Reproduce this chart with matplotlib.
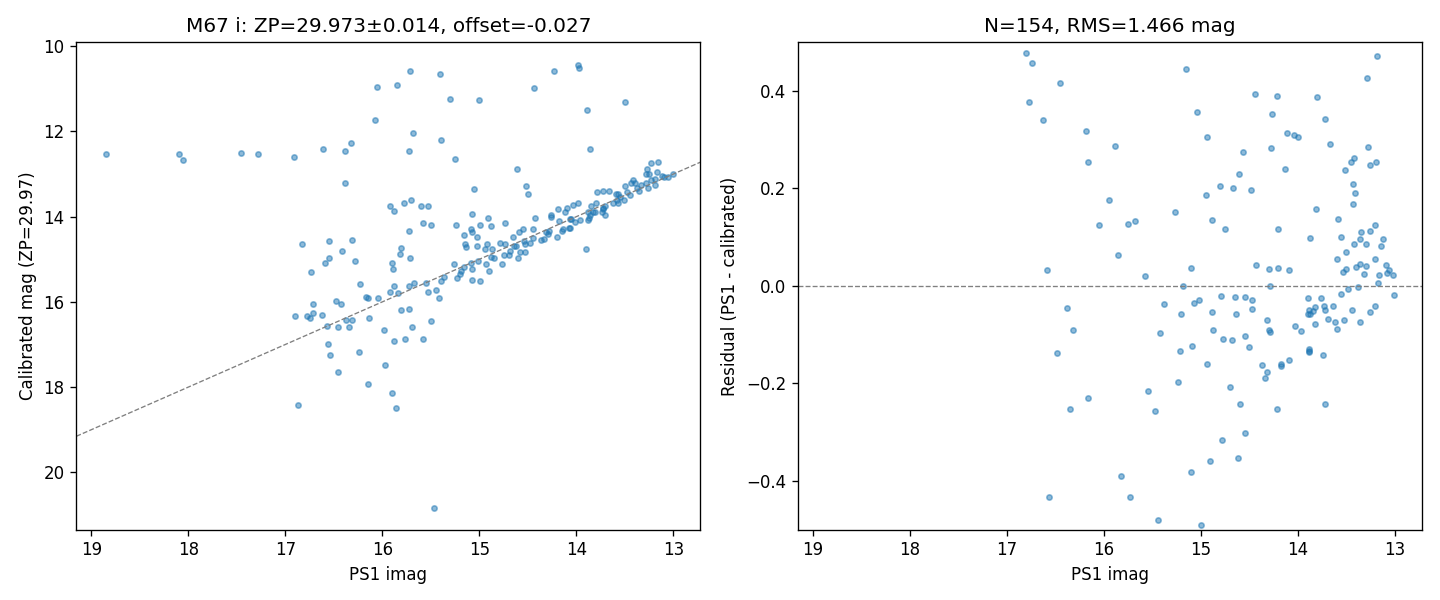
import numpy as np
import matplotlib
matplotlib.use("Agg")
import matplotlib.pyplot as plt

# left panel: PS1 imag vs calibrated mag
ps1_mag = [
    18.85, 18.10, 18.05, 17.46, 17.28, 16.91, 16.61, 16.39, 16.32, 16.38, 16.08, 16.06,
    16.83, 16.55, 16.31, 16.42, 16.55, 16.59, 16.28, 16.74, 16.23, 16.17, 16.15, 16.04,
    16.48, 16.43, 16.72, 16.90, 16.78, 16.75, 16.72, 16.62, 16.37, 16.31, 16.14, 16.57,
    16.46, 16.34, 15.98, 16.56, 16.54, 16.24, 15.97, 16.46, 16.15, 16.87,
    15.85, 15.71, 15.41, 14.23, 14.44, 15.30, 15.00, 15.68, 15.40, 15.72, 15.25, 14.61,
    14.52, 14.50, 15.05, 15.92, 15.88, 15.78, 15.70, 15.60, 15.53, 15.72, 15.58, 15.50,
    15.24, 15.08, 14.99, 14.91, 14.88, 14.74, 15.09, 15.08, 15.16, 15.02,
    14.43, 14.19, 14.12, 14.10, 14.26, 14.26, 14.18, 15.15, 15.14, 15.02, 14.92, 14.94,
    14.79, 14.74, 14.87, 14.65, 14.59, 14.55, 14.45, 14.45, 14.54, 14.53, 14.48, 14.64,
    14.62, 14.68, 14.58, 14.53, 14.60, 14.69, 14.75, 14.85, 14.88, 14.77, 14.93, 14.90,
    15.01, 15.09, 15.08, 15.08, 14.99, 15.16, 15.19, 15.20, 15.23, 15.26, 15.36, 15.40,
    15.45, 15.42, 15.53, 15.55, 15.67, 15.73, 15.81, 15.82, 15.71, 15.90, 15.89, 15.88,
    15.92, 15.84, 15.81, 15.72, 15.50, 15.69, 15.77, 15.58, 15.88, 15.90, 15.86, 15.47,
    14.33, 14.36, 14.31, 14.29, 14.28, 14.20, 14.15, 14.14, 14.07, 14.07,
    13.98, 13.97, 13.89, 13.50, 13.86, 13.90,
    13.23, 13.16, 13.27, 13.17, 13.28, 13.25, 13.12, 13.10, 13.05, 13.00, 13.19, 13.23,
    13.19, 13.42, 13.40, 13.44, 13.50, 13.33, 13.28, 13.37, 13.35, 13.26, 13.48, 13.45,
    13.57, 13.59, 13.55, 13.79, 13.72, 13.66, 13.58, 13.51, 13.62, 13.57, 13.70, 13.72,
    13.80, 13.85, 13.73, 13.70, 13.74, 13.88, 13.86, 13.83, 13.81, 13.87, 13.88, 13.98,
    14.03, 13.96, 14.01, 14.05, 14.08,
]
cal_mag = [
    12.52, 12.52, 12.68, 12.50, 12.52, 12.59, 12.42, 12.45, 12.28, 13.22, 11.74, 10.95,
    14.65, 14.58, 14.54, 14.80, 14.96, 15.08, 15.05, 15.31, 15.57, 15.88, 15.90, 15.92,
    15.99, 16.04, 16.06, 16.32, 16.32, 16.39, 16.27, 16.30, 16.42, 16.42, 16.39, 16.56,
    16.60, 16.60, 16.67, 17.00, 17.24, 17.17, 17.47, 17.64, 17.92, 18.41,
    10.90, 10.59, 10.64, 10.57, 10.97, 11.23, 11.25, 12.03, 12.19, 12.45, 12.64, 12.89,
    13.29, 13.46, 13.34, 13.76, 13.86, 13.69, 13.60, 13.74, 13.74, 14.33, 14.16, 14.19,
    14.19, 13.93, 14.19, 14.02, 14.23, 14.14, 14.30, 14.35, 14.44, 14.47,
    14.04, 13.81, 13.88, 13.79, 13.95, 14.00, 14.09, 14.63, 14.72, 14.68, 14.63, 14.77,
    14.61, 14.63, 14.75, 14.47, 14.37, 14.30, 14.28, 14.51, 14.56, 14.65, 14.61, 14.68,
    14.70, 14.80, 14.84, 14.84, 14.98, 14.91, 14.89, 14.96, 14.94, 15.10, 15.10, 15.27,
    15.05, 15.08, 15.22, 15.48, 15.50, 15.19, 15.27, 15.34, 15.43, 15.12, 15.41, 15.52,
    15.73, 15.92, 15.76, 15.55, 15.55, 15.62, 14.73, 14.87, 14.98, 15.08, 15.24, 15.62,
    15.76, 15.78, 16.20, 16.16, 16.44, 16.60, 16.86, 16.86, 16.93, 18.13, 18.48, 20.83,
    14.53, 14.54, 14.37, 14.40, 14.34, 14.47, 14.33, 14.30, 14.26, 14.05,
    10.43, 10.52, 11.49, 11.32, 12.40, 14.75,
    12.73, 12.71, 12.87, 12.94, 13.01, 13.01, 13.04, 13.06, 13.06, 13.01, 13.11, 13.15,
    13.25, 13.15, 13.22, 13.20, 13.29, 13.25, 13.20, 13.32, 13.39, 13.32, 13.43, 13.48,
    13.46, 13.46, 13.53, 13.41, 13.39, 13.39, 13.60, 13.60, 13.69, 13.67, 13.75, 13.79,
    13.67, 13.76, 13.81, 13.95, 13.88, 13.90, 13.97, 13.90, 13.90, 14.02, 14.07, 13.69,
    13.73, 14.07, 14.12, 14.05, 14.26,
]

# right panel: residuals (PS1 - calibrated)
res_mag = [
    16.80, 16.74, 16.45, 16.77, 16.63, 16.18, 15.89, 16.16, 15.95, 16.05, 15.75, 15.68,
    15.85, 16.59, 15.58, 16.38, 15.38, 16.32, 15.42, 16.48, 15.54, 16.16, 16.35, 15.47,
    15.82, 16.57, 15.73, 15.44,
    15.15, 14.44, 14.21, 15.04, 14.27, 14.94, 14.11, 14.28, 14.57, 14.13, 14.61, 14.80,
    14.67, 14.48, 14.95, 15.27, 14.88, 14.75, 14.20, 15.10, 14.43, 14.30, 14.20, 14.09,
    15.18, 14.29, 15.07, 15.02, 14.79, 14.65, 14.55, 14.47, 15.20, 14.89, 14.64, 14.47,
    14.32, 14.30, 14.29, 14.87, 14.77, 14.68, 14.54, 14.50, 15.09, 15.21, 14.94, 14.37,
    14.32, 14.34, 14.17, 14.17, 14.09, 15.24, 14.70, 14.60, 14.21, 14.55, 14.78, 14.91,
    14.62, 15.10, 15.00,
    13.18, 13.29, 13.80, 13.72, 14.04, 14.00, 13.67, 13.28, 13.42, 13.45, 13.26, 13.19,
    13.51, 13.43, 13.41, 13.43, 13.81, 13.59, 13.20, 13.26, 13.35, 13.36, 13.12, 13.42,
    13.30, 13.14, 13.87, 13.56, 13.50, 13.60, 13.20, 13.53, 13.50, 13.40, 13.36, 13.30,
    13.32, 13.09, 13.06, 13.08, 13.02, 13.16, 13.17, 13.38, 13.48,
    13.55, 13.01, 13.90, 13.76, 13.82, 13.73, 13.64, 13.88, 13.84, 13.72, 13.90, 13.87,
    13.44, 13.20, 13.26, 13.69, 13.62, 13.52, 13.36, 13.82, 13.60, 14.03, 13.97, 13.88,
    13.88, 13.89, 13.74, 13.72,
]
residual = [
    0.477, 0.457, 0.415, 0.376, 0.340, 0.318, 0.286, 0.253, 0.176, 0.124, 0.127, 0.133,
    0.063, 0.032, 0.020, -0.046, -0.037, -0.091, -0.097, -0.138, -0.216, -0.230, -0.253, -0.257,
    -0.390, -0.433, -0.433, -0.480,
    0.444, 0.393, 0.389, 0.356, 0.352, 0.305, 0.313, 0.282, 0.274, 0.239, 0.229, 0.204,
    0.200, 0.196, 0.186, 0.151, 0.135, 0.116, 0.116, 0.036, 0.042, 0.034, 0.036, 0.032,
    -0.001, -0.001, -0.035, -0.029, -0.021, -0.023, -0.023, -0.029, -0.058, -0.054, -0.058, -0.048,
    -0.070, -0.091, -0.095, -0.091, -0.109, -0.111, -0.103, -0.126, -0.124, -0.134, -0.160, -0.162,
    -0.177, -0.189, -0.160, -0.165, -0.152, -0.197, -0.208, -0.242, -0.253, -0.302, -0.316, -0.359,
    -0.353, -0.382, -0.490,
    0.471, 0.426, 0.387, 0.342, 0.309, 0.305, 0.290, 0.284, 0.262, 0.253, 0.247, 0.253,
    0.237, 0.208, 0.190, 0.167, 0.157, 0.137, 0.124, 0.112, 0.110, 0.096, 0.096, 0.085,
    0.085, 0.081, 0.098, 0.100, 0.069, 0.055, 0.055, 0.028, 0.034, 0.038, 0.044, 0.040,
    0.024, 0.042, 0.032, 0.026, 0.022, 0.022, 0.006, -0.003, -0.007,
    -0.017, -0.019, -0.025, -0.025, -0.044, -0.042, -0.042, -0.050, -0.052, -0.050, -0.058, -0.058,
    -0.050, -0.042, -0.054, -0.068, -0.074, -0.070, -0.074, -0.078, -0.089, -0.083, -0.093, -0.130,
    -0.134, -0.136, -0.142, -0.242,
]

zp_title = "M67 i: ZP=29.973\u00b10.014, offset=-0.027"
res_title = "N=154, RMS=1.466 mag"
xlim = (19.155, 12.72)

fig, (ax1, ax2) = plt.subplots(1, 2, figsize=(12, 5), dpi=120)

ax1.scatter(ps1_mag, cal_mag, s=10, alpha=0.5, color="C0")
line = np.array(xlim)
ax1.plot(line, line, color="gray", ls="--", lw=0.8)
ax1.set_xlim(*xlim)
ax1.set_ylim(21.35, 9.9)
ax1.set_xlabel("PS1 imag")
ax1.set_ylabel("Calibrated mag (ZP=29.97)")
ax1.set_title(zp_title)

ax2.scatter(res_mag, residual, s=10, alpha=0.5, color="C0")
ax2.axhline(0, color="gray", ls="--", lw=0.8)
ax2.set_xlim(*xlim)
ax2.set_ylim(-0.5, 0.5)
ax2.set_xlabel("PS1 imag")
ax2.set_ylabel("Residual (PS1 - calibrated)")
ax2.set_title(res_title)

plt.subplots_adjust(left=0.053, right=0.9875, top=0.93, bottom=0.117, wspace=0.156)
plt.savefig("out.png", dpi=120)
plt.close()
